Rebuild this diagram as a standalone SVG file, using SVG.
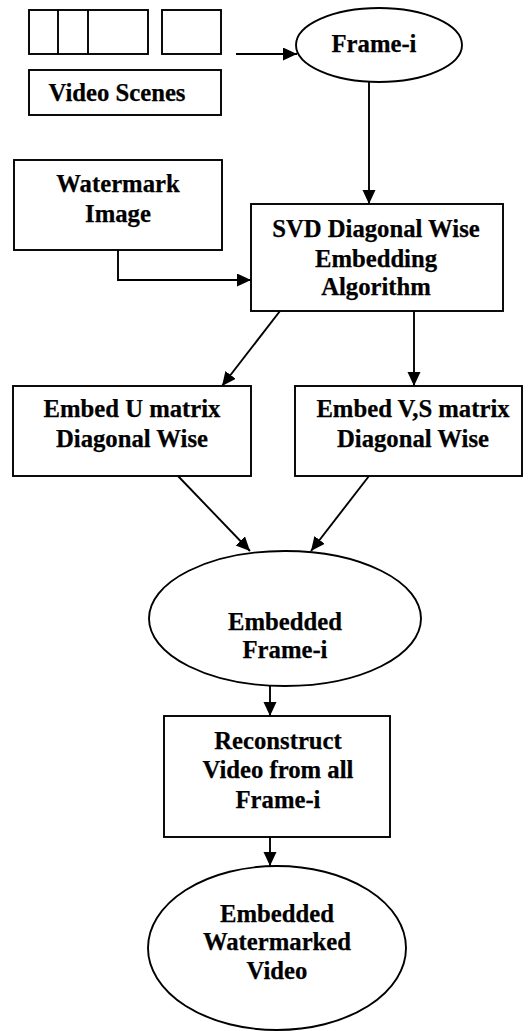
<svg xmlns="http://www.w3.org/2000/svg" width="531" height="1031" viewBox="0 0 531 1031">
<defs>
<style>
.s{fill:#fff;stroke:#000;stroke-width:1.9}
.c{fill:none;stroke:#000;stroke-width:1.9}
text{font-family:"Liberation Serif","Times New Roman",serif;font-weight:bold;font-size:24.7px;fill:#000;text-anchor:middle;stroke:#000;stroke-width:0.25}
</style>
<marker id="ah" markerUnits="userSpaceOnUse" markerWidth="15" markerHeight="14" refX="14" refY="6.5" orient="auto">
<path d="M0,0 L14,6.5 L0,13 z" fill="#000"/>
</marker>
</defs>
<rect width="531" height="1031" fill="#fff"/>
<g id="frames">
<rect class="s" x="29" y="10" width="119" height="44"/>
<line class="c" x1="58" y1="10" x2="58" y2="54"/>
<line class="c" x1="88" y1="10" x2="88" y2="54"/>
<rect class="s" x="162" y="10" width="59" height="44"/>
</g>
<g id="video-scenes">
<rect class="s" x="29" y="70" width="192" height="45"/>
<text x="117" y="101">Video Scenes</text>
</g>
<g id="frame-i">
<ellipse class="s" cx="379" cy="45" rx="83" ry="37"/>
<text x="374" y="52">Frame-i</text>
</g>
<g id="watermark">
<rect class="s" x="14" y="160" width="208" height="90"/>
<text x="118" y="192">Watermark</text>
<text x="118" y="222">Image</text>
</g>
<g id="svd">
<rect class="s" x="251" y="204" width="252" height="107"/>
<text x="376" y="237">SVD Diagonal Wise</text>
<text x="376" y="267">Embedding</text>
<text x="376" y="295">Algorithm</text>
</g>
<g id="embed-u">
<rect class="s" x="13" y="386" width="238" height="90"/>
<text x="132" y="417">Embed U matrix</text>
<text x="132" y="447">Diagonal Wise</text>
</g>
<g id="embed-vs">
<rect class="s" x="295" y="386" width="227" height="90"/>
<text x="413" y="417">Embed V,S matrix</text>
<text x="413" y="447">Diagonal Wise</text>
</g>
<g id="embedded-frame">
<ellipse class="s" cx="285" cy="618.5" rx="136" ry="67.5"/>
<text x="285" y="630">Embedded</text>
<text x="285" y="658">Frame-i</text>
</g>
<g id="reconstruct">
<rect class="s" x="164" y="716" width="226" height="121"/>
<text x="278" y="749">Reconstruct</text>
<text x="278" y="778">Video from all</text>
<text x="278" y="808">Frame-i</text>
</g>
<g id="final">
<ellipse class="s" cx="277" cy="948" rx="129" ry="82"/>
<text x="277" y="922">Embedded</text>
<text x="277" y="950">Watermarked</text>
<text x="277" y="979">Video</text>
</g>
<g id="connectors">
<line class="c" x1="236" y1="54" x2="297" y2="54" marker-end="url(#ah)"/>
<line class="c" x1="369" y1="82" x2="369" y2="204" marker-end="url(#ah)"/>
<polyline class="c" points="118,250 118,280 251,280" marker-end="url(#ah)"/>
<line class="c" x1="280" y1="311" x2="222" y2="386" marker-end="url(#ah)"/>
<line class="c" x1="414" y1="311" x2="414" y2="386" marker-end="url(#ah)"/>
<line class="c" x1="178" y1="476" x2="250" y2="551" marker-end="url(#ah)"/>
<line class="c" x1="369" y1="476" x2="311" y2="551" marker-end="url(#ah)"/>
<line class="c" x1="270" y1="686" x2="270" y2="716" marker-end="url(#ah)"/>
<line class="c" x1="270" y1="837" x2="270" y2="866" marker-end="url(#ah)"/>
</g>
</svg>
